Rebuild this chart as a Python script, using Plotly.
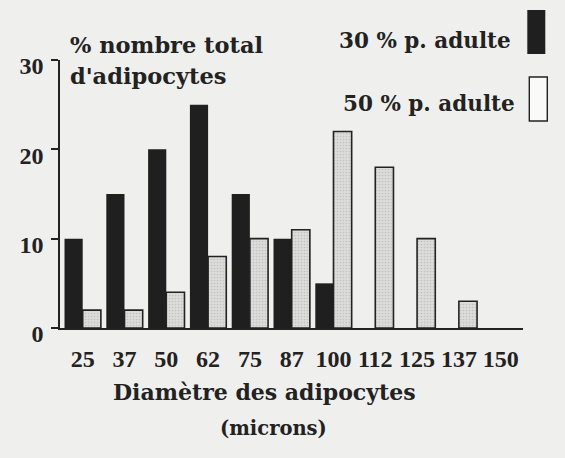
import plotly.graph_objects as go

# ---- data ----
diametres = ["25", "37", "50", "62", "75", "87", "100", "112", "125", "137", "150"]
pct_30_adulte = [10, 15, 20, 25, 15, 10, 5, 0, 0, 0, 0]
pct_50_adulte = [2, 2, 4, 8, 10, 11, 22, 18, 10, 3, 0]
y_ticks = [0, 10, 20, 30]
serie_noms = ["30 % p. adulte", "50 % p. adulte"]

# ---- styles ----
BG = "#efefed"
INK = "#222222"
TXT = "DejaVu Serif"
NUM = "Liberation Serif"

W, H = 565, 458
L, R, T, B = 60, 42, 60, 130
PW, PH = W - L - R, H - T - B


def px_x(px):
    return (px - L) / PW


def px_y(py):
    return (H - B - py) / PH


def visible(vals):
    # a zero-height bar is not drawn at all in the reference
    return [v if v else None for v in vals]


fig = go.Figure()
fig.add_trace(go.Bar(
    x=diametres, y=visible(pct_30_adulte), name=serie_noms[0],
    marker=dict(color="#1f1f1f", line=dict(width=0)),
))
fig.add_trace(go.Bar(
    x=diametres, y=visible(pct_50_adulte), name=serie_noms[1],
    marker=dict(color="#d6d6d4", line=dict(color=INK, width=1.6),
                pattern=dict(shape=".", fgcolor="#a8a8a8", bgcolor="#dcdcda",
                             size=3, solidity=0.25)),
))

fig.update_layout(
    width=W, height=H, autosize=False,
    margin=dict(l=L, r=R, t=T, b=B, pad=0),
    paper_bgcolor=BG, plot_bgcolor=BG,
    barmode="group", bargap=0.13, bargroupgap=0,
    showlegend=False,
    font=dict(family=TXT, color=INK),
)

fig.update_xaxes(
    type="category", categoryorder="array", categoryarray=diametres,
    range=[-0.543, 10.534],
    showline=True, linecolor=INK, linewidth=1.6,
    ticks="", showgrid=False, zeroline=False,
    tickfont=dict(family=NUM, size=24, color=INK, weight="bold"),
    ticklabelstandoff=8,
)
fig.update_yaxes(
    range=[0, 30], tickvals=y_ticks, ticktext=[str(v) for v in y_ticks],
    showline=True, linecolor=INK, linewidth=1.6,
    ticks="outside", ticklen=7, tickwidth=1.6, tickcolor=INK,
    showgrid=False, zeroline=False,
    tickfont=dict(family=NUM, size=24, color=INK, weight="bold"),
    ticklabelstandoff=3, ticklabelshift=6,
)

ann = []
ann.append(dict(text="% nombre total", x=px_x(68), y=px_y(45), xanchor="left", yanchor="middle",
                font=dict(family=TXT, size=22.5, color=INK, weight="bold")))
ann.append(dict(text="d'adipocytes", x=px_x(68), y=px_y(76), xanchor="left", yanchor="middle",
                font=dict(family=TXT, size=22.5, color=INK, weight="bold")))
ann.append(dict(text="Diamètre des adipocytes", x=px_x(264), y=px_y(392), xanchor="center", yanchor="middle",
                font=dict(family=TXT, size=22, color=INK, weight="bold")))
ann.append(dict(text="(microns)", x=px_x(273), y=px_y(428), xanchor="center", yanchor="middle",
                font=dict(family=TXT, size=19.5, color=INK, weight="bold")))
ann.append(dict(text=serie_noms[0], x=px_x(513), y=px_y(40), xanchor="right", yanchor="middle",
                font=dict(family=TXT, size=21.5, color=INK, weight="bold")))
ann.append(dict(text=serie_noms[1], x=px_x(517), y=px_y(103), xanchor="right", yanchor="middle",
                font=dict(family=TXT, size=21.5, color=INK, weight="bold")))
for a in ann:
    a.update(xref="paper", yref="paper", showarrow=False)
fig.update_layout(annotations=ann)

fig.add_shape(type="rect", xref="paper", yref="paper",
              x0=px_x(527.3), x1=px_x(545.3), y0=px_y(54), y1=px_y(10),
              fillcolor="#1f1f1f", line=dict(width=0))
fig.add_shape(type="rect", xref="paper", yref="paper",
              x0=px_x(529.3), x1=px_x(547.3), y0=px_y(121), y1=px_y(77),
              fillcolor="#fafaf8", line=dict(color=INK, width=1.4))

fig.write_html(
    "out.html",
    config={"displayModeBar": False},
    post_script="document.body.style.margin='0';document.body.style.overflow='hidden';"
                "document.body.style.background='" + BG + "';",
)
